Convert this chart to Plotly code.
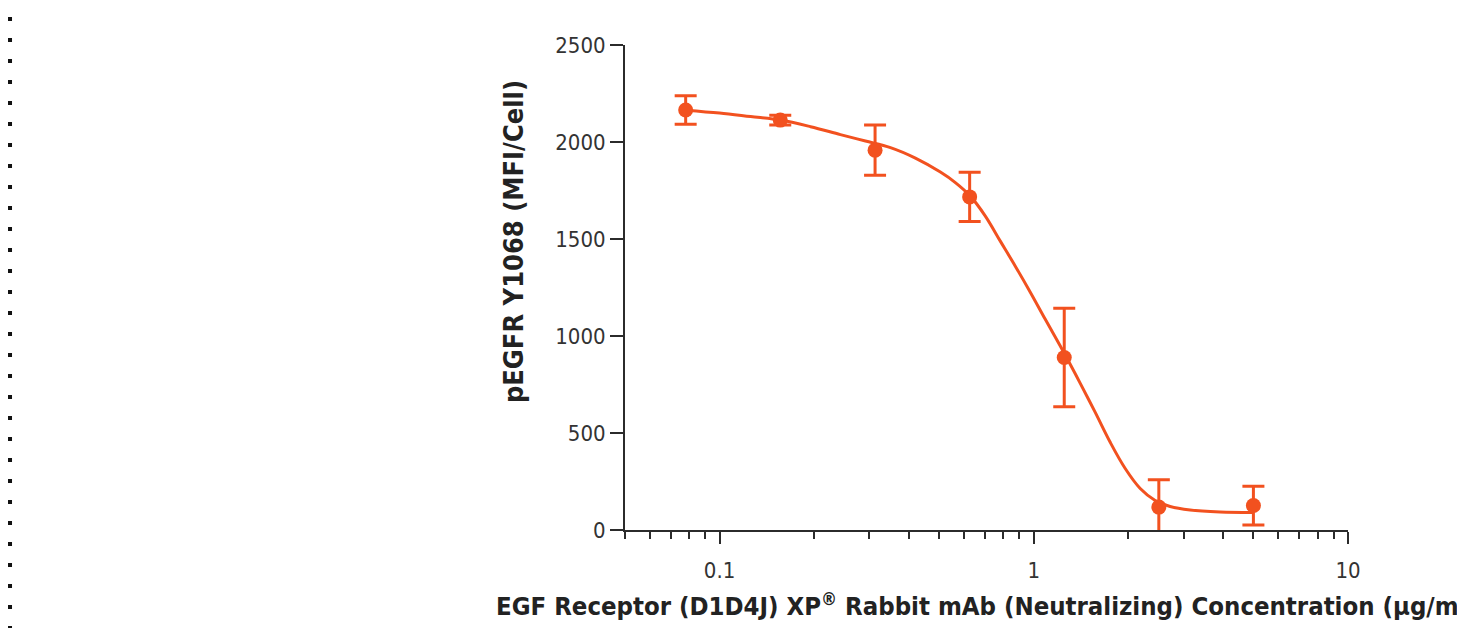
import plotly.graph_objects as go

# Measured data (concentration in ug/ml, pEGFR MFI/Cell, SEM)
conc = [0.078, 0.156, 0.3125, 0.625, 1.25, 2.5, 5.0]
mfi = [2165, 2113, 1958, 1717, 889, 118, 126]
err = [73, 25, 129, 127, 254, 141, 100]

# Fitted curve
curve_x = [0.078, 0.1, 0.1255, 0.1563, 0.1947, 0.2424, 0.2912, 0.3498, 0.42, 0.5043,
           0.5628, 0.6281, 0.7011, 0.7824, 0.8733, 0.9747, 1.0879, 1.2503, 1.4058,
           1.5689, 1.7509, 1.9542, 2.181, 2.4339, 2.7164, 3.1455, 3.9174, 4.9888]
curve_y = [2164, 2149, 2131, 2113, 2079, 2038, 2005, 1971, 1917, 1845,
           1791, 1721, 1618, 1489, 1360, 1226, 1086, 911, 756,
           606, 452, 317, 214, 152, 121, 103, 93, 90]

y_ticks = [0, 500, 1000, 1500, 2000, 2500]
x_ticks = [0.1, 1, 10]
x_tick_text = ["0.1", "1", "10"]

color = "#F2511F"
axis_color = "#2b2b2b"
tick_font = dict(family="DejaVu Sans Condensed, sans-serif", size=22, color="#333333")
xtitle_font = dict(family="DejaVu Sans Condensed, sans-serif", size=25.5, color="#222222")
ytitle_font = dict(family="DejaVu Sans Condensed, sans-serif", size=27, color="#222222")

fig = go.Figure()
fig.add_trace(go.Scatter(
    x=curve_x, y=curve_y, mode="lines",
    line=dict(color=color, width=3, shape="spline", smoothing=1.0),
    hoverinfo="skip", showlegend=False,
))
fig.add_trace(go.Scatter(
    x=conc, y=mfi, mode="markers",
    marker=dict(color=color, size=15),
    error_y=dict(type="data", array=err, visible=True, color=color, thickness=3, width=11),
    showlegend=False,
))

fig.update_xaxes(
    type="log", range=[-1.301, 1],
    tickvals=x_ticks, ticktext=x_tick_text,
    ticks="outside", ticklen=12, tickwidth=2, tickcolor=axis_color,
    minor=dict(ticks="outside", ticklen=7, tickwidth=2, tickcolor=axis_color, dtick="D1", showgrid=False),
    showline=True, linewidth=2, linecolor=axis_color,
    showgrid=False, zeroline=False,
    tickfont=tick_font, ticklabelstandoff=8,
    title=dict(text="<b>EGF Receptor (D1D4J) XP<sup>®</sup> Rabbit mAb (Neutralizing) Concentration (µg/ml)</b>",
               font=xtitle_font, standoff=15),
)
fig.update_yaxes(
    range=[0, 2500], tickvals=y_ticks,
    ticks="outside", ticklen=13, tickwidth=2, tickcolor=axis_color,
    showline=True, linewidth=2, linecolor=axis_color,
    showgrid=False, zeroline=False,
    tickfont=tick_font,
)

fig.update_layout(
    width=1465, height=628,
    margin=dict(l=617, r=125, t=37, b=106),
    paper_bgcolor="white", plot_bgcolor="white",
    annotations=[dict(text="<b>pEGFR Y1068 (MFI/Cell)</b>", xref="paper", yref="paper",
                      x=-0.155, y=0.5955, xanchor="center", yanchor="middle",
                      textangle=-90, showarrow=False, font=ytitle_font)],
    shapes=[dict(type="line", xref="paper", yref="paper",
                 x0=-0.8506, x1=-0.8506, y0=1.0578, y1=-0.2033,
                 line=dict(color="#111111", width=4, dash="4px,17px"))],
)

fig.write_html("out.html")
